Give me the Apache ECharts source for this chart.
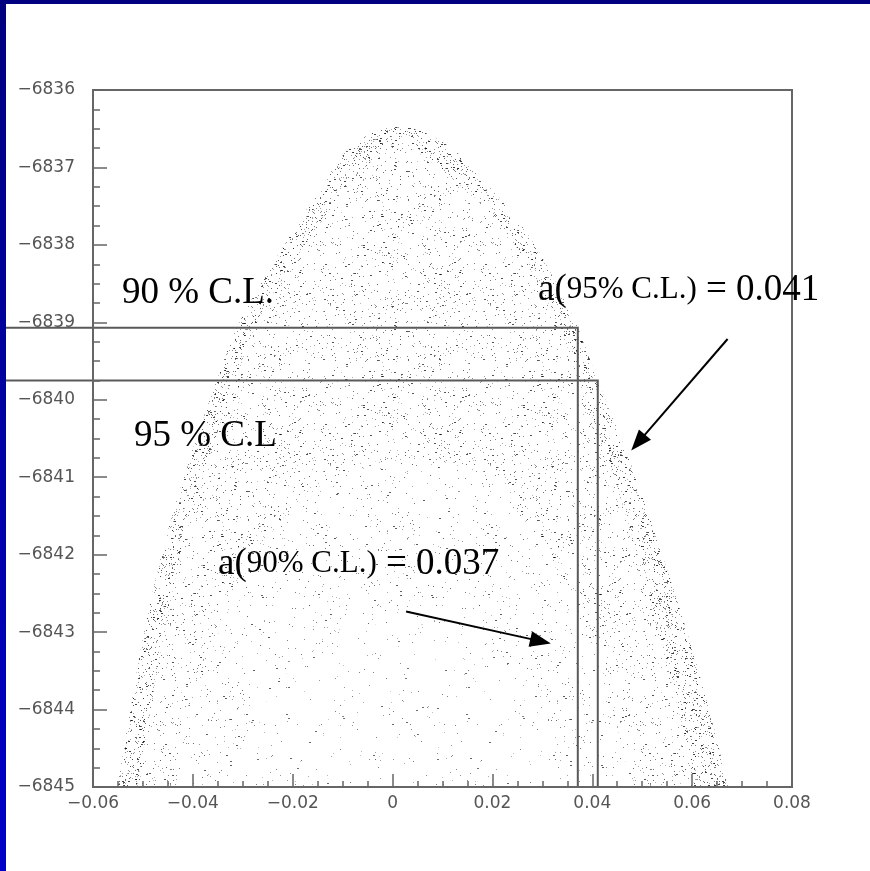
<!DOCTYPE html>
<html>
<head>
<meta charset="utf-8">
<script src="https://cdn.jsdelivr.net/npm/echarts@6/dist/echarts.min.js"></script>
<style>
html,body{margin:0;padding:0;background:#fff;}
#chart{width:870px;height:871px;}
</style>
</head>
<body>
<div id="chart"></div>
<script>
// ---------------- data ----------------
const xTickLabels = ['\u22120.06', '\u22120.04', '\u22120.02', '0', '0.02', '0.04', '0.06', '0.08'];
const yTickLabels = ['\u22126845', '\u22126844', '\u22126843', '\u22126842', '\u22126841',
                     '\u22126840', '\u22126839', '\u22126838', '\u22126837', '\u22126836'];

// outer envelope of the scatter cloud  [a, lnL]
const cloudEdge = [
  [-0.0552, -6845], [-0.0530, -6844.2], [-0.0499, -6843.05], [-0.0458, -6841.89],
  [-0.0405, -6840.74], [-0.0352, -6839.75], [-0.0312, -6839.07], [-0.0258, -6838.44],
  [-0.0203, -6837.86], [-0.0145, -6837.28], [-0.0079, -6836.71], [0.0011, -6836.47],
  [0.0109, -6836.71], [0.0199, -6837.28], [0.0270, -6837.86], [0.0323, -6838.44],
  [0.0371, -6839.07], [0.0411, -6839.75], [0.0472, -6840.74], [0.0534, -6841.89],
  [0.0592, -6843.05], [0.0642, -6844.2], [0.0672, -6845]
];
// inner limit of the dense rim of points
const rimInnerEdge = [
  [-0.0512, -6845], [-0.0490, -6844.2], [-0.0459, -6843.05], [-0.0420, -6841.89],
  [-0.0367, -6840.74], [-0.0315, -6839.75], [-0.0276, -6839.07], [-0.0222, -6838.44],
  [-0.0165, -6837.9], [-0.0105, -6837.38], [-0.0040, -6836.9], [0.0011, -6836.68],
  [0.0070, -6836.9], [0.0162, -6837.38], [0.0234, -6837.9], [0.0287, -6838.44],
  [0.0335, -6839.07], [0.0373, -6839.75], [0.0430, -6840.74], [0.0486, -6841.89],
  [0.0535, -6843.05], [0.0580, -6844.2], [0.0605, -6845]
];
// upper limit of the sparser lower core
const sparseCoreEdge = [
  [-0.0440, -6845], [-0.0380, -6843.6], [-0.0300, -6842.3], [-0.0200, -6841.4],
  [-0.0080, -6840.9], [0.0040, -6840.75], [0.0160, -6840.95], [0.0270, -6841.6],
  [0.0360, -6842.6], [0.0430, -6843.8], [0.0480, -6845]
];
// upper limit of the sparsest bottom-centre zone
const emptyCoreEdge = [
  [-0.0340, -6845], [-0.0220, -6843.6], [-0.0060, -6842.9], [0.0100, -6842.9],
  [0.0240, -6843.5], [0.0360, -6845]
];

// confidence-level limits
const clA   = [0.0371, 0.0411];
const clLnL = [-6839.07, -6839.75];

// annotation arrows  [fromA, fromLnL, toA, toLnL]
const arrowFromA   = [0.0671, 0.0027];
const arrowFromLnL = [-6839.215, -6842.734];
const arrowToA     = [0.0478, 0.0317];
const arrowToLnL   = [-6840.655, -6843.147];

// ---------------- style helpers ----------------
// stipple texture (style only): irregular dots (quadratic Weyl sequence) on an opaque white tile
function stipple(size, count, k, aLo, aHi) {
  const c = document.createElement('canvas');
  c.width = size; c.height = size;
  const g = c.getContext('2d');
  g.fillStyle = '#fff';
  g.fillRect(0, 0, size, size);
  const a1 = Math.SQRT2 * k, a2 = Math.sqrt(3) * k, b1 = Math.sqrt(5), b2 = Math.sqrt(7);
  for (let n = 1; n <= count; n++) {
    const x = Math.floor((((n * n * a1 + n * b1) % 1) + 1) % 1 * size);
    const y = Math.floor((((n * n * a2 + n * b2) % 1) + 1) % 1 * size);
    const t = (n * 0.6180339887) % 1;
    g.fillStyle = 'rgba(0,0,0,' + (aLo + (aHi - aLo) * t).toFixed(3) + ')';
    g.fillRect(x, y, 1, 1);
    if (t > 0.88) { g.fillRect((x + 1) % size, y, 1, 1); }
  }
  return c;
}
const texRim    = stipple(150, Math.round(150 * 150 / 11), 0.5, 0.3, 0.75);
const texMid    = stipple(160, Math.round(160 * 160 / 30), 0.3, 0.25, 0.7);
const texSparse = stipple(170, Math.round(170 * 170 / 70), 0.7, 0.25, 0.65);
const texEmpty  = stipple(180, Math.round(180 * 180 / 140), 0.9, 0.2, 0.6);

function areaLayer(name, data, tex, z) {
  return {
    name: name, type: 'line', data: data, smooth: 0.35, showSymbol: false, symbol: 'none',
    silent: true, z: z,
    lineStyle: { width: 0, opacity: 0 },
    areaStyle: { origin: 'start', opacity: 1, color: { image: tex, repeat: 'repeat' } },
    emphasis: { disabled: true }
  };
}

const yMin = -6845, yMax = -6836;
const chart = echarts.init(document.getElementById('chart'), null, { renderer: 'canvas' });

const bigFont = 37, smallFont = 31;
chart.setOption({
  animation: false,
  backgroundColor: '#ffffff',
  grid: { left: 93, top: 90, right: 78, bottom: 84, show: true, borderColor: '#666', borderWidth: 2,
          backgroundColor: 'transparent', z: 10 },
  xAxis: {
    type: 'value', min: -0.06, max: 0.08, interval: 0.02, z: 10,
    axisLine: { show: true, onZero: false, lineStyle: { color: '#666', width: 2 } },
    axisTick: { show: true, inside: true, length: 13, lineStyle: { color: '#666', width: 1.5 } },
    minorTick: { show: true, splitNumber: 4, length: 6, lineStyle: { color: '#666', width: 1.5 } },
    splitLine: { show: false },
    axisLabel: { margin: 8, color: '#555', fontFamily: 'DejaVu Sans', fontSize: 17,
                 formatter: function (v, i) { return xTickLabels[i]; } }
  },
  yAxis: {
    type: 'value', min: yMin, max: yMax, interval: 1, z: 10,
    axisLine: { show: true, onZero: false, lineStyle: { color: '#666', width: 2 } },
    axisTick: { show: true, inside: true, length: 14, lineStyle: { color: '#666', width: 1.5 } },
    minorTick: { show: true, splitNumber: 4, length: 7, lineStyle: { color: '#666', width: 1.5 } },
    splitLine: { show: false },
    axisLabel: { margin: 18, color: '#555', fontFamily: 'DejaVu Sans', fontSize: 17,
                 formatter: function (v, i) { return yTickLabels[i]; } }
  },
  series: [
    areaLayer('rim', cloudEdge, texRim, 1),
    areaLayer('mid', rimInnerEdge, texMid, 2),
    areaLayer('sparse', sparseCoreEdge, texSparse, 3),
    areaLayer('empty', emptyCoreEdge, texEmpty, 4),
    {
      name: 'CL limits', type: 'custom', silent: true, z: 6,
      data: clA.map(function (a, i) { return [a, clLnL[i]]; }),
      renderItem: function (params, api) {
        const p = api.coord([api.value(0), api.value(1)]);
        const b = api.coord([api.value(0), yMin]);
        return { type: 'polyline', shape: { points: [[0, p[1]], p, b] },
                 style: { stroke: '#5a5a5a', lineWidth: 2, fill: null } };
      }
    },
    {
      name: 'arrows', type: 'custom', silent: true, z: 7,
      data: arrowFromA.map(function (a, i) { return [a, arrowFromLnL[i], arrowToA[i], arrowToLnL[i]]; }),
      renderItem: function (params, api) {
        const p1 = api.coord([api.value(0), api.value(1)]);
        const p2 = api.coord([api.value(2), api.value(3)]);
        const dx = p2[0] - p1[0], dy = p2[1] - p1[1];
        const len = Math.sqrt(dx * dx + dy * dy), ux = dx / len, uy = dy / len;
        const L = 21, W = 8;
        const bx = p2[0] - ux * L, by = p2[1] - uy * L;
        return { type: 'group', children: [
          { type: 'line', shape: { x1: p1[0], y1: p1[1], x2: bx + ux * 2, y2: by + uy * 2 },
            style: { stroke: '#000', lineWidth: 2 } },
          { type: 'polygon', shape: { points: [p2, [bx - uy * W, by + ux * W], [bx + uy * W, by - ux * W]] },
            style: { fill: '#000' } }
        ] };
      }
    }
  ],
  graphic: { elements: [
    { type: 'text', x: 122, y: 293, z: 100, silent: true,
      style: { text: '90 % C.L.', font: bigFont + 'px "Liberation Serif"', fill: '#000', verticalAlign: 'middle' } },
    { type: 'text', x: 134, y: 436, z: 100, silent: true,
      style: { text: '95 % C.L', font: bigFont + 'px "Liberation Serif"', fill: '#000', verticalAlign: 'middle' } },
    { type: 'text', x: 538, y: 290, z: 100, silent: true,
      style: { text: '{b|a(}{s|95% C.L.)}{b| = 0.041}', verticalAlign: 'middle',
               rich: { b: { fontFamily: 'Liberation Serif', fontSize: bigFont, fill: '#000' },
                       s: { fontFamily: 'Liberation Serif', fontSize: smallFont, fill: '#000' } } } },
    { type: 'text', x: 218, y: 564, z: 100, silent: true,
      style: { text: '{b|a(}{s|90% C.L.)}{b| = 0.037}', verticalAlign: 'middle',
               rich: { b: { fontFamily: 'Liberation Serif', fontSize: bigFont, fill: '#000' },
                       s: { fontFamily: 'Liberation Serif', fontSize: smallFont, fill: '#000' } } } },
    { type: 'rect', z: 200, silent: true, shape: { x: 0, y: 0, width: 870, height: 4 },
      style: { fill: '#000080' } },
    { type: 'rect', z: 200, silent: true, shape: { x: 0, y: 0, width: 6, height: 871 },
      style: { fill: new echarts.graphic.LinearGradient(0, 0, 0, 1,
               [{ offset: 0, color: '#000080' }, { offset: 1, color: '#0000c8' }]) } }
  ] }
});
</script>
</body>
</html>
